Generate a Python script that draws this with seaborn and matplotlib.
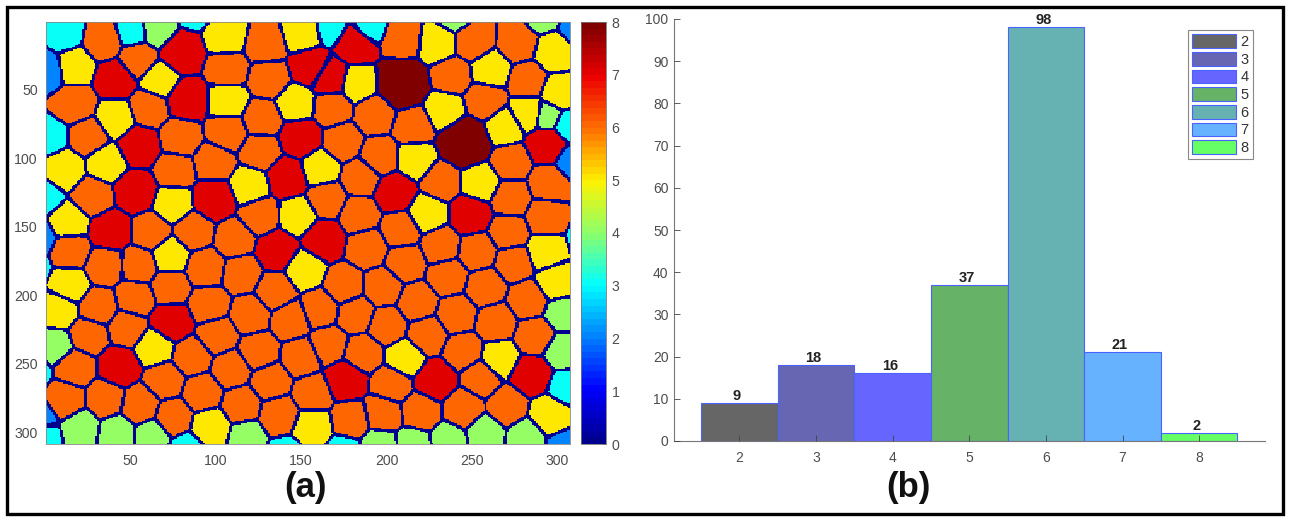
#!/usr/bin/env python
import numpy as np
import pandas as pd
import seaborn as sns
import matplotlib.pyplot as plt
from matplotlib.colors import LinearSegmentedColormap
from matplotlib.patches import Patch, Rectangle

# grain centres (x, y in image units), grouped by number of neighbours
cells_2 = [(2, 36), (312, 5), (308, 102), (304, 312), (-3, 158), (-3, 289)]
cells_3 = [(12, 10), (51, 8), (87, -8), (167, 5), (190, 5), (306, 76), (3, 85), (0, 128),
           (318, 158), (-8, 180), (-8, 256), (-2, 302), (83, 312), (141, 316), (175, 313), (304, 267)]
cells_4 = [(66, 6), (240, -5), (291, -5), (294, 69), (6, 237), (21, 296), (42, 300), (63, 302),
           (118, 303), (303, 213), (302, 241), (196, 309), (216, 308), (236, 306), (258, 300), (282, 302)]
cells_5 = [(106, 11), (151, 9), (18, 33), (67, 43), (230, 17), (298, 23), (107, 58), (147, 60),
           (41, 71), (183, 45), (261, 35), (301, 52), (234, 65), (283, 67), (269, 77), (36, 103),
           (11, 108), (120, 120), (161, 107), (217, 101), (255, 118), (75, 133), (148, 142), (14, 147),
           (224, 140), (293, 168), (73, 171), (152, 181), (299, 190), (14, 193), (8, 210), (64, 238),
           (211, 246), (266, 246), (97, 296), (157, 296), (295, 287)]
cells_6 = [(34, 15), (54, 28), (129, 17), (107, 35), (131, 42), (18, 60), (61, 63), (127, 71),
           (107, 81), (26, 84), (79, 85), (126, 95), (99, 103), (76, 109), (28, 128), (126, 142),
           (62, 154), (87, 153), (111, 159), (15, 167), (35, 178), (55, 178), (94, 180), (115, 184),
           (31, 209), (53, 202), (73, 194), (96, 207), (135, 197), (120, 214), (48, 224), (144, 218),
           (101, 229), (26, 229), (125, 241), (86, 245), (18, 253), (109, 254), (150, 245), (70, 262),
           (132, 263), (92, 271), (35, 275), (12, 276), (115, 280), (56, 280), (157, 272), (75, 289),
           (137, 287), (209, 14), (251, 15), (277, 16), (238, 39), (283, 43), (168, 63), (193, 68),
           (258, 58), (216, 77), (174, 88), (196, 99), (273, 103), (185, 114), (232, 117), (295, 118),
           (165, 130), (273, 129), (184, 141), (293, 143), (272, 154), (208, 152), (232, 164), (189, 165),
           (253, 168), (211, 176), (275, 176), (175, 193), (198, 194), (236, 186), (258, 194), (283, 203),
           (218, 205), (182, 214), (161, 210), (241, 214), (264, 220), (200, 222), (224, 229), (287, 230),
           (166, 236), (186, 242), (245, 241), (255, 260), (203, 265), (179, 291), (198, 286), (220, 285),
           (245, 282), (271, 281)]
cells_7 = [(80, 23), (41, 42), (156, 33), (167, 41), (182, 17), (83, 57), (55, 91), (150, 85),
           (294, 90), (142, 114), (53, 124), (99, 130), (38, 153), (136, 167), (163, 159), (205, 125),
           (249, 141), (74, 219), (43, 252), (285, 258), (176, 262), (229, 262)]
cells_8 = [(209, 45), (246, 88)]

neighbours = [2, 3, 4, 5, 6, 7, 8]
counts = [9, 18, 16, 37, 98, 21, 2]
bar_colors = ['#666666', '#6666b2', '#6666ff', '#66b266', '#66b2b2', '#66b2ff', '#66ff66']
image_w, image_h = 307, 308

sns.set_theme(style='white')
plt.rcParams['font.family'] = ['Liberation Sans', 'DejaVu Sans']

jet64 = LinearSegmentedColormap.from_list('jet64', [
    (0, (0, 0, 0.5625)), (0.125, (0, 0, 1)), (0.375, (0, 1, 1)), (0.5, (0.55, 1, 0.42)),
    (0.625, (1, 0.95, 0)), (0.75, (1, 0.44, 0)), (0.875, (0.93, 0, 0)), (1, (0.5, 0, 0))], N=64)

# nearest centre gives the grain, a small gap to the second nearest gives the boundary.
# distances are measured as the image is displayed, and many-sided grains get a head start
seeds = []
values = []
starts = []
head_start = [-3, -3, -2, 0, 0, 1, 6]
for n, h, group in zip(neighbours, head_start, [cells_2, cells_3, cells_4, cells_5, cells_6, cells_7, cells_8]):
    seeds += group
    values += [n] * len(group)
    starts += [h] * len(group)
seeds = np.array(seeds, dtype=float)
values = np.array(values, dtype=float)
starts = np.array(starts, dtype=float)
yy, xx = np.mgrid[1:image_h + 1, 1:image_w + 1]
dist = np.hypot((xx[..., None] - seeds[:, 0]) * 1.706, (yy[..., None] - seeds[:, 1]) * 1.368)
dist = dist - starts
order = np.sort(dist, axis=2)
grain = values[dist.argmin(axis=2)]
grain[order[..., 1] - order[..., 0] < 3.2] = 0

W, H = 1290, 521
fig = plt.figure(figsize=(W / 100, H / 100), dpi=100)
ax1 = fig.add_axes([46 / W, 1 - 444 / H, 524 / W, 422 / H])
cax = fig.add_axes([581 / W, 1 - 444 / H, 25 / W, 422 / H])
ax2 = fig.add_axes([674 / W, 1 - 441 / H, 591 / W, 422 / H])

sns.heatmap(grain, ax=ax1, cbar_ax=cax, cmap=jet64, vmin=0, vmax=8,
            xticklabels=False, yticklabels=False)
ax1.set_xticks(np.arange(50, 301, 50) - 0.5, [str(v) for v in range(50, 301, 50)])
ax1.set_yticks(np.arange(50, 301, 50) - 0.5, [str(v) for v in range(50, 301, 50)], rotation=0)
ax1.tick_params(direction='in', length=3, width=0.6, color='#666666', labelcolor='#4d4d4d',
                labelsize=10.2, left=True, bottom=True, pad=6)
ax1.tick_params(axis='x', pad=7)
for s in ax1.spines.values():
    s.set_visible(True)
    s.set_color('#888888')
    s.set_linewidth(0.6)

cax.set_yticks(range(0, 9))
cax.tick_params(direction='in', length=3, width=0.6, color='#555555', labelcolor='#4d4d4d',
                labelsize=10.2, right=True, pad=4)
cb = ax1.collections[0].colorbar
cb.outline.set_visible(True)
cb.outline.set_edgecolor('#777777')
cb.outline.set_linewidth(0.6)

df = pd.DataFrame({'neighbours': neighbours, 'count': counts})
sns.barplot(data=df, x='neighbours', y='count', hue='neighbours', palette=bar_colors,
            native_scale=True, dodge=False, width=1.0, saturation=1, ax=ax2, legend=False,
            edgecolor='#4a62ff', linewidth=0.8)
ax2.set_xlim(1.145, 8.86)
ax2.set_ylim(0, 100)
ax2.set_xticks(neighbours)
ax2.set_yticks(range(0, 101, 10))
ax2.set_xlabel('')
ax2.set_ylabel('')
ax2.set_axisbelow(False)
ax2.tick_params(direction='in', length=4, width=0.6, color='#444444', labelcolor='#4d4d4d',
                labelsize=10, left=True, bottom=True)
ax2.tick_params(axis='x', pad=7)
ax2.tick_params(axis='y', pad=4)
sns.despine(ax=ax2)
for side in ['left', 'bottom']:
    ax2.spines[side].set_color('#777777')
    ax2.spines[side].set_linewidth(0.8)
for n, c in zip(neighbours, counts):
    ax2.annotate(str(c), (n, c), xytext=(-2, 0), textcoords='offset points', ha='center', va='bottom',
                 fontsize=10.5, fontweight='bold', color='#222222')

handles = [Patch(facecolor=col, edgecolor='#4a62ff', linewidth=0.8, label=str(n))
           for n, col in zip(neighbours, bar_colors)]
leg = ax2.legend(handles=handles, loc='upper left', bbox_to_anchor=((1188 - 674) / 591, (441 - 30) / 422),
                 borderaxespad=0, fontsize=10.5, handlelength=3.0, handleheight=1.05, handletextpad=0.3,
                 labelspacing=0.2, borderpad=0.3, fancybox=False, framealpha=1, edgecolor='#888888',
                 labelcolor='#333333')
leg.get_frame().set_linewidth(0.8)

fig.text(306 / W, 1 - 487 / H, '(a)', fontsize=25, fontweight='bold', ha='center', va='center', color='#111111')
fig.text(908 / W, 1 - 487 / H, '(b)', fontsize=25, fontweight='bold', ha='center', va='center', color='#111111')
fig.add_artist(Rectangle((7 / W, 1 - 514 / H), 1276 / W, 507 / H, transform=fig.transFigure,
                         fill=False, edgecolor='black', linewidth=2.4))

fig.savefig('out.png', dpi=100)
